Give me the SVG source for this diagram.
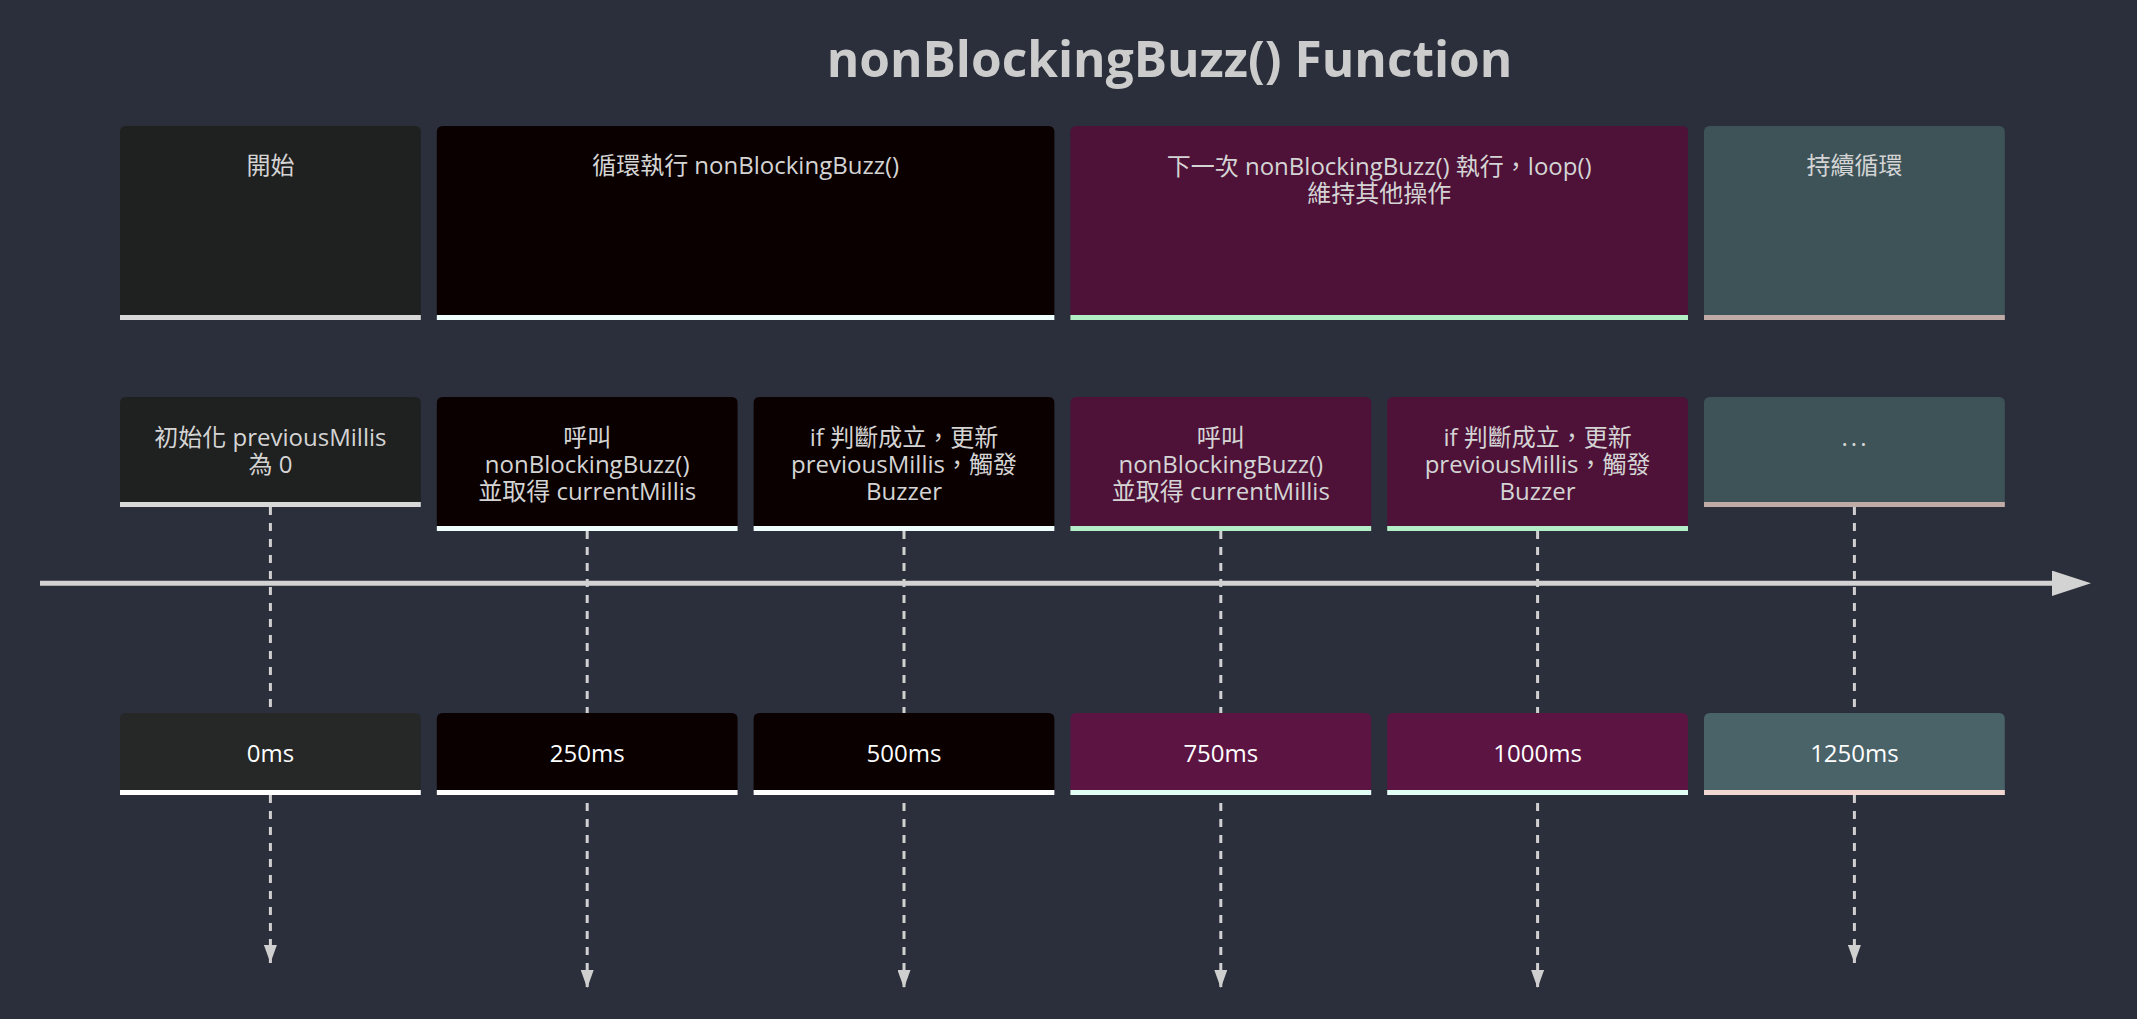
<svg xmlns="http://www.w3.org/2000/svg" width="2137" height="1019" viewBox="0 0 2137 1019">
<style>
text{font-family:"Open Sans","Noto Sans CJK TC",sans-serif;text-anchor:middle}
.title{font-size:49.6px;font-weight:bold;fill:#cccccc}
.sec{font-size:24px;fill:#d4d4d4}
.ev{font-size:24px;fill:#d4d4d4}
.tm{font-size:24px;fill:#ffffff}
.dash{stroke:#d0d0d0;stroke-width:3;stroke-dasharray:8 8;fill:none}
.axis{stroke:#d3d3d3;stroke-width:5;fill:none}
.bar{stroke-width:5}
.s1{fill:#1f2020}.s1t{fill:#262827}
.s2{fill:#0b0000}.s2t{fill:#0b0000}
.s3{fill:#4e1238}.s3t{fill:#5c1443}
.s4{fill:#3e5358}.s4t{fill:#4a6369}
.b1{stroke:#d8d8d8}.b2{stroke:#effffe}.b3{stroke:#b2efc6}.b4{stroke:#c1aba6}
.bt{stroke:#ffffff}.b3t{stroke:#e2fff6}.b4t{stroke:#f1d6d2}
</style>
<defs>
<marker id="dn" markerUnits="userSpaceOnUse" markerWidth="18" markerHeight="13" refX="18" refY="6.5" orient="auto" viewBox="0 0 18 13">
<path d="M0,0 L18,6.5 L0,13 Z" fill="#cfcfcf"/>
</marker>
<marker id="ax" markerUnits="userSpaceOnUse" markerWidth="40" markerHeight="26" refX="2" refY="12.7" orient="auto" viewBox="0 0 40 26">
<path d="M0,0 L39,12.7 L0,25.4 Z" fill="#d3d3d3"/>
</marker>
</defs>
<rect width="2137" height="1019" fill="#2a2f3b"/>
<text class="title" x="1169.5" y="77">nonBlockingBuzz() Function</text>

<g id="connectors">
<line class="axis" x1="40" y1="583.3" x2="2054" y2="583.3" marker-end="url(#ax)"/>
<line class="dash" x1="270.4" y1="507" x2="270.4" y2="963" marker-end="url(#dn)"/>
<line class="dash" x1="587.2" y1="531" x2="587.2" y2="988" marker-end="url(#dn)"/>
<line class="dash" x1="904" y1="531" x2="904" y2="988" marker-end="url(#dn)"/>
<line class="dash" x1="1220.8" y1="531" x2="1220.8" y2="988" marker-end="url(#dn)"/>
<line class="dash" x1="1537.6" y1="531" x2="1537.6" y2="988" marker-end="url(#dn)"/>
<line class="dash" x1="1854.4" y1="507" x2="1854.4" y2="963" marker-end="url(#dn)"/>
</g>

<g id="section-1">
<path class="s1" d="M120,320 V132 Q120,126 126,126 H414.8 Q420.8,126 420.8,132 V320 Z"/>
<line class="bar b1" x1="120" y1="317.5" x2="420.8" y2="317.5"/>
<text class="sec" x="270.4" y="174">開始</text>
</g>
<g id="section-2">
<path class="s2" d="M436.8,320 V132 Q436.8,126 442.8,126 H1048.4 Q1054.4,126 1054.4,132 V320 Z"/>
<line class="bar b2" x1="436.8" y1="317.5" x2="1054.4" y2="317.5"/>
<text class="sec" x="745.6" y="174">循環執行 nonBlockingBuzz()</text>
</g>
<g id="section-3">
<path class="s3" d="M1070.4,320 V132 Q1070.4,126 1076.4,126 H1682 Q1688,126 1688,132 V320 Z"/>
<line class="bar b3" x1="1070.4" y1="317.5" x2="1688" y2="317.5"/>
<text class="sec" x="1379.2" y="175"><tspan x="1379.2">下一次 nonBlockingBuzz() 執行，loop()</tspan><tspan x="1379.2" dy="27">維持其他操作</tspan></text>
</g>
<g id="section-4">
<path class="s4" d="M1704,320 V132 Q1704,126 1710,126 H1998.8 Q2004.8,126 2004.8,132 V320 Z"/>
<line class="bar b4" x1="1704" y1="317.5" x2="2004.8" y2="317.5"/>
<text class="sec" x="1854.4" y="174">持續循環</text>
</g>

<g id="event-1">
<path class="s1" d="M120,507 V403 Q120,397 126,397 H414.8 Q420.8,397 420.8,403 V507 Z"/>
<line class="bar b1" x1="120" y1="504.5" x2="420.8" y2="504.5"/>
<text class="ev" x="270.4" y="446"><tspan x="270.4">初始化 previousMillis</tspan><tspan x="270.4" dy="27">為 0</tspan></text>
</g>
<g id="event-2">
<path class="s2" d="M436.8,531 V403 Q436.8,397 442.8,397 H731.6 Q737.6,397 737.6,403 V531 Z"/>
<line class="bar b2" x1="436.8" y1="528.5" x2="737.6" y2="528.5"/>
<text class="ev" x="587.2" y="446"><tspan x="587.2">呼叫</tspan><tspan x="587.2" dy="27">nonBlockingBuzz()</tspan><tspan x="587.2" dy="27">並取得 currentMillis</tspan></text>
</g>
<g id="event-3">
<path class="s2" d="M753.6,531 V403 Q753.6,397 759.6,397 H1048.4 Q1054.4,397 1054.4,403 V531 Z"/>
<line class="bar b2" x1="753.6" y1="528.5" x2="1054.4" y2="528.5"/>
<text class="ev" x="904" y="446"><tspan x="904">if 判斷成立，更新</tspan><tspan x="904" dy="27">previousMillis，觸發</tspan><tspan x="904" dy="27">Buzzer</tspan></text>
</g>
<g id="event-4">
<path class="s3" d="M1070.4,531 V403 Q1070.4,397 1076.4,397 H1365.2 Q1371.2,397 1371.2,403 V531 Z"/>
<line class="bar b3" x1="1070.4" y1="528.5" x2="1371.2" y2="528.5"/>
<text class="ev" x="1220.8" y="446"><tspan x="1220.8">呼叫</tspan><tspan x="1220.8" dy="27">nonBlockingBuzz()</tspan><tspan x="1220.8" dy="27">並取得 currentMillis</tspan></text>
</g>
<g id="event-5">
<path class="s3" d="M1387.2,531 V403 Q1387.2,397 1393.2,397 H1682 Q1688,397 1688,403 V531 Z"/>
<line class="bar b3" x1="1387.2" y1="528.5" x2="1688" y2="528.5"/>
<text class="ev" x="1537.6" y="446"><tspan x="1537.6">if 判斷成立，更新</tspan><tspan x="1537.6" dy="27">previousMillis，觸發</tspan><tspan x="1537.6" dy="27">Buzzer</tspan></text>
</g>
<g id="event-6">
<path class="s4" d="M1704,507 V403 Q1704,397 1710,397 H1998.8 Q2004.8,397 2004.8,403 V507 Z"/>
<line class="bar b4" x1="1704" y1="504.5" x2="2004.8" y2="504.5"/>
<text class="ev" x="1855.5" y="446" letter-spacing="3">...</text>
</g>

<g id="time-0ms">
<path class="s1t" d="M120,795 V719 Q120,713 126,713 H414.8 Q420.8,713 420.8,719 V795 Z"/>
<line class="bar bt" x1="120" y1="792.5" x2="420.8" y2="792.5"/>
<text class="tm" x="270.4" y="761.5">0ms</text>
</g>
<g id="time-250ms">
<path class="s2t" d="M436.8,795 V719 Q436.8,713 442.8,713 H731.6 Q737.6,713 737.6,719 V795 Z"/>
<line class="bar bt" x1="436.8" y1="792.5" x2="737.6" y2="792.5"/>
<text class="tm" x="587.2" y="761.5">250ms</text>
</g>
<g id="time-500ms">
<path class="s2t" d="M753.6,795 V719 Q753.6,713 759.6,713 H1048.4 Q1054.4,713 1054.4,719 V795 Z"/>
<line class="bar bt" x1="753.6" y1="792.5" x2="1054.4" y2="792.5"/>
<text class="tm" x="904" y="761.5">500ms</text>
</g>
<g id="time-750ms">
<path class="s3t" d="M1070.4,795 V719 Q1070.4,713 1076.4,713 H1365.2 Q1371.2,713 1371.2,719 V795 Z"/>
<line class="bar b3t" x1="1070.4" y1="792.5" x2="1371.2" y2="792.5"/>
<text class="tm" x="1220.8" y="761.5">750ms</text>
</g>
<g id="time-1000ms">
<path class="s3t" d="M1387.2,795 V719 Q1387.2,713 1393.2,713 H1682 Q1688,713 1688,719 V795 Z"/>
<line class="bar b3t" x1="1387.2" y1="792.5" x2="1688" y2="792.5"/>
<text class="tm" x="1537.6" y="761.5">1000ms</text>
</g>
<g id="time-1250ms">
<path class="s4t" d="M1704,795 V719 Q1704,713 1710,713 H1998.8 Q2004.8,713 2004.8,719 V795 Z"/>
<line class="bar b4t" x1="1704" y1="792.5" x2="2004.8" y2="792.5"/>
<text class="tm" x="1854.4" y="761.5">1250ms</text>
</g>
</svg>
